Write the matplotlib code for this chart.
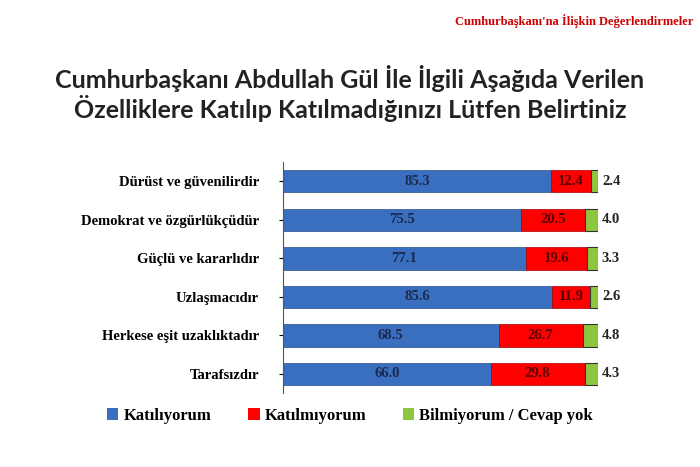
import matplotlib
matplotlib.use("Agg")
import matplotlib.pyplot as plt
from matplotlib.patches import Patch

categories = ["Dürüst ve güvenilirdir", "Demokrat ve özgürlükçüdür", "Güçlü ve kararlıdır",
              "Uzlaşmacıdır", "Herkese eşit uzaklıktadır", "Tarafsızdır"]
agree = [85.3, 75.5, 77.1, 85.6, 68.5, 66.0]
disagree = [12.4, 20.5, 19.6, 11.9, 26.7, 29.8]
dontknow = [2.4, 4.0, 3.3, 2.6, 4.8, 4.3]
series_names = ["Katılıyorum", "Katılmıyorum", "Bilmiyorum / Cevap yok"]
colors = ["#3a6fc0", "#ff0000", "#8dc63f"]

fig = plt.figure(figsize=(7, 4.67), dpi=100)
ax = fig.add_axes([0.404, 0.158, 0.45, 0.495])
y = list(range(len(categories)))
serif = "Liberation Serif"
h = 0.58
ax.barh(y, agree, height=h, color=colors[0], edgecolor="#2a4f8a", linewidth=0.5)
ax.barh(y, disagree, left=agree, height=h, color=colors[1], edgecolor="#aa0000", linewidth=0.5)
left2 = [a + d for a, d in zip(agree, disagree)]
ax.barh(y, dontknow, left=left2, height=h, color=colors[2], edgecolor="#333333", linewidth=0.8)
for i in y:
    ax.text(agree[i] / 2, i, f"{agree[i]:.1f}", ha="center", va="center", fontsize=10.5,
            fontweight="bold", color="#1a2a50", family=serif)
    ax.text(agree[i] + disagree[i] / 2, i, f"{disagree[i]:.1f}", ha="center", va="center",
            fontsize=10.5, fontweight="bold", color="#5a0000", family=serif)
    ax.text(left2[i] + dontknow[i] + 1.2, i, f"{dontknow[i]:.1f}", ha="left", va="center",
            fontsize=10.5, fontweight="bold", color="#222222", family=serif)
ax.set_xlim(0, 100)
ax.set_ylim(len(categories) - 0.5, -0.5)
ax.set_yticks(y)
ax.set_yticklabels(categories, fontsize=10.5, fontweight="bold", family=serif)
ax.tick_params(axis="y", length=3, pad=14)
ax.set_xticks([])
for s in ["top", "right", "bottom"]:
    ax.spines[s].set_visible(False)
ax.spines["left"].set_color("#555555")

handles = [Patch(facecolor=c) for c in colors]
fig.legend(handles, series_names, loc="center", bbox_to_anchor=(0.5, 0.11), ncol=3, frameon=False,
           prop={"family": serif, "weight": "bold", "size": 12}, handlelength=0.7, handleheight=0.8,
           handletextpad=0.3, columnspacing=2.2)

fig.text(0.5, 0.80, "Cumhurbaşkanı Abdullah Gül İle İlgili Aşağıda Verilen\nÖzelliklere Katılıp Katılmadığınızı Lütfen Belirtiniz",
         ha="center", va="center", fontsize=18, fontweight="bold", family="Lato", color="#222222",
         linespacing=1.15)
fig.text(0.99, 0.955, "Cumhurbaşkanı'na İlişkin Değerlendirmeler", ha="right", va="center",
         fontsize=9, fontweight="bold", color="#cc0000", family=serif)
fig.savefig("out.png", dpi=100)
